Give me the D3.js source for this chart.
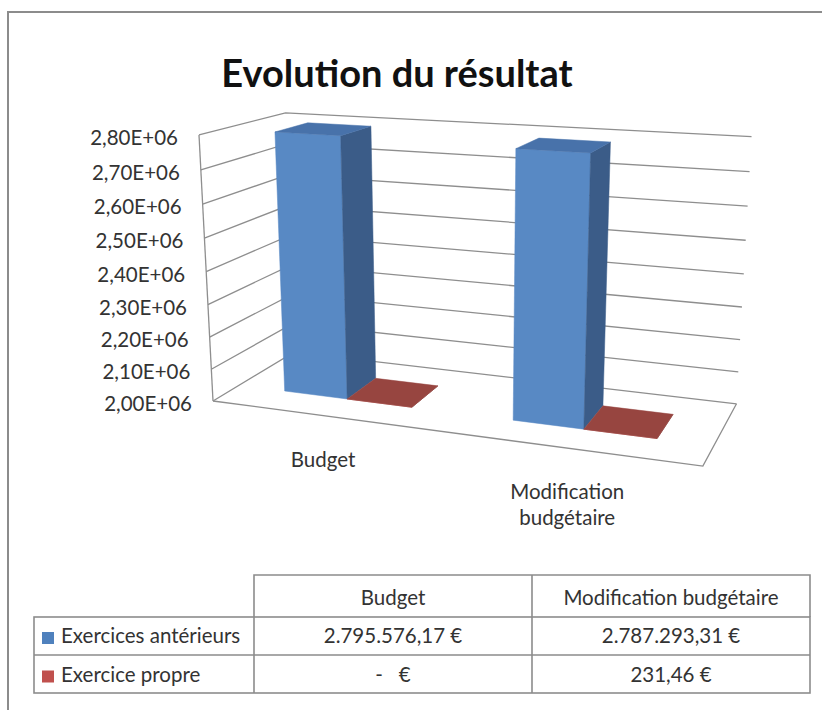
<!DOCTYPE html>
<html>
<head>
<meta charset="utf-8">
<script src="https://cdn.jsdelivr.net/npm/d3@7"></script>
<style>
  html, body { margin: 0; padding: 0; background: #fff; }
  svg { display: block; }
  text { font-family: Lato, "Open Sans", sans-serif; fill: #333; white-space: pre; }
</style>
</head>
<body>
<svg id="chart" width="822" height="710"></svg>
<script>
// ---------------- data ----------------
const title = "Evolution du résultat";
const categories = ["Budget", "Modification budgétaire"];
const categoryLines = [["Budget"], ["Modification", "budgétaire"]];
const seriesNames = ["Exercices antérieurs", "Exercice propre"];
const exercicesAnterieurs = [2795576.17, 2787293.31];
const exercicePropre = [0, 231.46];
const seriesValues = [exercicesAnterieurs, exercicePropre];
const yDomain = [2000000, 2800000];

// ---------------- styles ----------------
const faceColors = [
  { front: "#5889c4", side: "#3b5c88", top: "#4872aa" },
  { front: "#b4504b", side: "#7e3431", top: "#974540" }
];
const legendColors = ["#4f81bd", "#c0504d"];
const gridColor = "#8e8e8e";
const fs = "20.5px";

const svg = d3.select("#chart");

// ---------------- scales ----------------
const xCat = d3.scaleBand().domain(categories).range([0, 1]).paddingInner(0).paddingOuter(0);
const xSer = d3.scaleBand().domain(seriesNames).range([0, xCat.bandwidth()])
  .paddingInner(0).paddingOuter(0.75);
const y = d3.scaleLinear().domain(yDomain).range([0, 1]).clamp(true);
const yTicks = y.ticks(8);
const zFront = 0.3, zBack = 0.7;

// 3-point perspective projection of the unit box (X across, Y up, Z depth)
const VPX = [-3359, -74], VPY = [466, 5209], VPZ = [991, -68];
const ORIGIN = [213, 401];
const KX = -0.1206, KY = -0.05243, KZ = 0.1162;
function P(X, Yv, Z) {
  const w = 1 + KX * X + KY * Yv + KZ * Z;
  const px = ORIGIN[0] + KX * X * VPX[0] + KY * Yv * VPY[0] + KZ * Z * VPZ[0];
  const py = ORIGIN[1] + KX * X * VPX[1] + KY * Yv * VPY[1] + KZ * Z * VPZ[1];
  return [px / w, py / w];
}
const line = d3.line();

// ---------------- frame ----------------
svg.append("path").attr("d", "M8,712V12H824")
  .attr("fill", "none").attr("stroke", "#8c8c8c").attr("stroke-width", 2);

// ---------------- title ----------------
svg.append("text").attr("x", 397).attr("y", 87).attr("text-anchor", "middle")
  .style("font-size", "38px").style("font-weight", "700").style("fill", "#111")
  .text(title);

// ---------------- walls & gridlines ----------------
const g3d = svg.append("g");
g3d.selectAll("path.grid").data(yTicks).join("path").attr("class", "grid")
  .attr("d", t => line([P(0, y(t), 0), P(0, y(t), 1), P(1, y(t), 1)]))
  .attr("fill", "none").attr("stroke", gridColor).attr("stroke-width", 1.3);
// left edge of side wall
g3d.append("path").attr("d", line([P(0, 0, 0), P(0, 1, 0)]))
  .attr("fill", "none").attr("stroke", gridColor).attr("stroke-width", 1.3);
// floor front & right edges
g3d.append("path").attr("d", line([P(0, 0, 0), P(1, 0, 0), P(1, 0, 1)]))
  .attr("fill", "none").attr("stroke", gridColor).attr("stroke-width", 1.3);

// ---------------- y labels ----------------
const fmtTick = v => (v / 1e6).toFixed(2).replace(".", ",") + "E+06";
svg.selectAll("text.ytick").data(yTicks).join("text").attr("class", "ytick")
  .attr("x", t => P(0, y(t), 0)[0] - 21)
  .attr("y", t => P(0, y(t), 0)[1] + 3)
  .attr("dy", "0.35em").attr("text-anchor", "end")
  .style("font-size", fs).text(fmtTick);

// ---------------- bars ----------------
const bars = [];
categories.forEach((c, ci) => {
  seriesNames.forEach((s, si) => {
    bars.push({ c, s, si, value: seriesValues[si][ci] });
  });
});
const gb = svg.append("g");
bars.forEach(b => {
  const x0 = xCat(b.c) + xSer(b.s), x1 = x0 + xSer.bandwidth();
  const v = y(b.value);
  const col = faceColors[b.si];
  const faces = [
    { pts: [P(x0, 0, zFront), P(x1, 0, zFront), P(x1, v, zFront), P(x0, v, zFront)], fill: col.front },
    { pts: [P(x1, 0, zFront), P(x1, 0, zBack), P(x1, v, zBack), P(x1, v, zFront)], fill: col.side },
    { pts: [P(x0, v, zFront), P(x1, v, zFront), P(x1, v, zBack), P(x0, v, zBack)], fill: col.top }
  ];
  faces.forEach(f => {
    gb.append("path").attr("d", line(f.pts) + "Z").attr("fill", f.fill)
      .attr("stroke", f.fill).attr("stroke-width", 0.5);
  });
});

// ---------------- category labels ----------------
categories.forEach((c, ci) => {
  const p = P(xCat(c) + xCat.bandwidth() / 2, 0, 0);
  const t = svg.append("text").attr("text-anchor", "middle").style("font-size", fs);
  categoryLines[ci].forEach((ln, li) => {
    t.append("tspan").attr("x", p[0] - 1).attr("y", p[1] + 51 + li * 26).text(ln);
  });
});

// ---------------- data table ----------------
const locale = d3.formatLocale({ decimal: ",", thousands: ".", grouping: [3], currency: ["", " €"] });
const fmtEur = v => v === 0 ? "-   €" : locale.format("$,.2f")(v);
const colX = [34, 254, 532, 810];
const rowY = [575, 617, 655, 693];
const gt = svg.append("g");
const tStroke = "#8c8c8c";
// header
gt.append("path").attr("d", `M${colX[1]},${rowY[1]}V${rowY[0]}H${colX[3]}V${rowY[1]}M${colX[2]},${rowY[0]}V${rowY[1]}`)
  .attr("fill", "none").attr("stroke", tStroke).attr("stroke-width", 1.6);
// body
gt.append("rect").attr("x", colX[0]).attr("y", rowY[1]).attr("width", colX[3] - colX[0]).attr("height", rowY[3] - rowY[1])
  .attr("fill", "none").attr("stroke", tStroke).attr("stroke-width", 1.6);
gt.append("path").attr("d", `M${colX[0]},${rowY[2]}H${colX[3]}M${colX[1]},${rowY[1]}V${rowY[3]}M${colX[2]},${rowY[1]}V${rowY[3]}`)
  .attr("fill", "none").attr("stroke", tStroke).attr("stroke-width", 1.6);

categories.forEach((c, ci) => {
  gt.append("text").attr("x", (colX[ci + 1] + colX[ci + 2]) / 2).attr("y", 605)
    .attr("text-anchor", "middle").style("font-size", fs).text(c);
});
seriesNames.forEach((s, si) => {
  const base = 643 + si * 38.5;
  gt.append("rect").attr("x", 42).attr("y", base - 11).attr("width", 12).attr("height", 12)
    .attr("fill", legendColors[si]);
  gt.append("text").attr("x", 61).attr("y", base).style("font-size", fs).text(s);
  categories.forEach((c, ci) => {
    gt.append("text").attr("x", (colX[ci + 1] + colX[ci + 2]) / 2).attr("y", base)
      .attr("text-anchor", "middle").style("font-size", fs)
      .text(fmtEur(seriesValues[si][ci]));
  });
});
</script>
</body>
</html>
